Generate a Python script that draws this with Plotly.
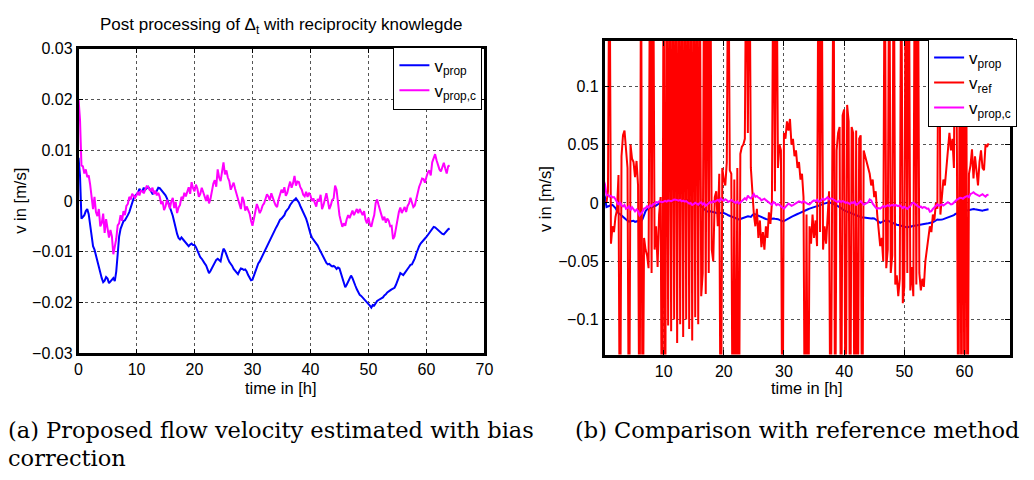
import plotly.graph_objects as go

# ---------------- data ----------------
# sampling instants (hours)
T_PROP = [0, 0.25, 0.5, 0.75, 1, 1.25, 1.5, 1.75, 2, 2.25, 2.5, 2.75, 3, 3.25, 3.5, 3.75,
          4, 4.25, 4.5, 4.75, 5, 5.25, 5.5, 5.75, 6, 6.25, 6.5, 6.75, 7, 7.25, 7.5, 7.75,
          8, 8.25, 8.5, 8.75, 9, 9.25, 9.5, 9.75, 10, 10.25, 10.5, 10.75, 11, 11.25, 11.5, 11.75,
          12, 12.25, 12.5, 12.75, 13, 13.25, 13.5, 13.75, 14, 14.25, 14.5, 14.75, 15, 15.25, 15.5, 15.75,
          16, 16.25, 16.5, 16.75, 17, 17.25, 17.5, 17.75, 18, 18.25, 18.5, 18.75, 19, 19.25, 19.5, 19.75,
          20, 20.25, 20.5, 20.75, 21, 21.25, 21.5, 21.75, 22, 22.25, 22.5, 22.75, 23, 23.25, 23.5, 23.75,
          24, 24.25, 24.5, 24.75, 25, 25.25, 25.5, 25.75, 26, 26.25, 26.5, 26.75, 27, 27.25, 27.5, 27.75,
          28, 28.25, 28.5, 28.75, 29, 29.25, 29.5, 29.75, 30, 30.25, 30.5, 30.75, 31, 31.25, 31.5, 31.75,
          32, 32.25, 32.5, 32.75, 33, 33.25, 33.5, 33.75, 34, 34.25, 34.5, 34.75, 35, 35.25, 35.5, 35.75,
          36, 36.25, 36.5, 36.75, 37, 37.25, 37.5, 37.75, 38, 38.25, 38.5, 38.75, 39, 39.25, 39.5, 39.75,
          40, 40.25, 40.5, 40.75, 41, 41.25, 41.5, 41.75, 42, 42.25, 42.5, 42.75, 43, 43.25, 43.5, 43.75,
          44, 44.25, 44.5, 44.75, 45, 45.25, 45.5, 45.75, 46, 46.25, 46.5, 46.75, 47, 47.25, 47.5, 47.75,
          48, 48.25, 48.5, 48.75, 49, 49.25, 49.5, 49.75, 50, 50.25, 50.5, 50.75, 51, 51.25, 51.5, 51.75,
          52, 52.25, 52.5, 52.75, 53, 53.25, 53.5, 53.75, 54, 54.25, 54.5, 54.75, 55, 55.25, 55.5, 55.75,
          56, 56.25, 56.5, 56.75, 57, 57.25, 57.5, 57.75, 58, 58.25, 58.5, 58.75, 59, 59.25, 59.5, 59.75,
          60, 60.25, 60.5, 60.75, 61, 61.25, 61.5, 61.75, 62, 62.25, 62.5, 62.75, 63, 63.25, 63.5, 63.75,
          64]

# v_prop in 1e-3 m/s
V_PROP_MM = [8.5, 5.0, -3.5, -3.2, -2.8, -2.0, -1.6, -2.6, -4.4, -6.8, -8.9, -9.6, -10.8, -11.6, -13.0, -14.5,
             -15.2, -16.0, -15.7, -15.0, -15.3, -16.2, -15.9, -15.5, -15.2, -15.8, -13.9, -10.5, -7.0, -5.5, -4.6, -4.0,
             -3.8, -3.4, -2.8, -2.2, -1.3, -0.3, 0.5, 1.0, 1.3, 1.6, 2.4, 2.0, 1.9, 2.6, 2.2, 2.5,
             2.8, 2.4, 1.8, 1.4, 1.5, 1.6, 2.0, 2.6, 2.5, 2.2, 1.9, 1.5, 1.1, 0.5, -0.3, -1.0,
             -1.9, -2.9, -4.1, -5.4, -6.5, -7.3, -7.6, -7.2, -7.5, -7.9, -8.1, -8.5, -8.9, -8.6, -8.4, -8.7,
             -8.7, -9.1, -9.8, -10.6, -11.1, -11.4, -12.0, -12.3, -12.7, -13.5, -14.2, -13.8, -13.3, -12.6, -12.2, -11.6,
             -11.4, -11.7, -11.9, -10.5, -9.4, -9.8, -10.4, -11.3, -12.0, -12.3, -12.8, -13.4, -13.8, -14.1, -14.4, -13.8,
             -13.3, -13.4, -13.6, -13.5, -13.9, -14.6, -15.2, -15.6, -15.5, -14.7, -13.8, -12.9, -12.3, -11.9, -11.3, -10.5,
             -10.0, -9.5, -8.9, -8.2, -7.7, -7.2, -6.6, -5.8, -5.4, -4.9, -4.3, -3.7, -3.5, -3.2, -2.8, -2.1,
             -1.8, -1.4, -0.8, -0.3, 0.0, 0.2, 0.5, 0.1, -0.3, -1.0, -1.6, -2.2, -2.8, -3.5, -4.4, -5.6,
             -6.5, -7.2, -7.6, -7.8, -8.2, -8.8, -9.4, -10.0, -10.6, -11.2, -11.7, -12.2, -12.5, -12.4, -12.7, -12.9,
             -12.8, -13.0, -13.4, -13.1, -13.3, -14.2, -15.2, -16.2, -17.0, -16.5, -15.9, -15.1, -14.7, -15.2, -15.8, -16.7,
             -17.4, -18.0, -18.5, -18.7, -19.0, -19.3, -19.5, -19.8, -20.1, -20.6, -21.0, -20.5, -20.6, -20.0, -19.7, -19.5,
             -19.3, -19.2, -19.0, -18.6, -18.4, -18.0, -17.7, -17.6, -17.4, -17.3, -17.1, -16.5, -15.9, -15.0, -14.2, -14.4,
             -14.6, -14.2, -13.9, -13.4, -13.0, -12.6, -12.5, -12.0, -11.3, -10.4, -9.5, -8.9, -8.4, -8.0, -7.7, -7.4,
             -7.1, -6.7, -6.3, -5.8, -5.4, -5.1, -5.2, -5.5, -5.7, -6.0, -6.3, -6.5, -6.6, -6.2, -5.8, -5.6,
             -5.4]

# v_prop,c in 1e-3 m/s
V_PROPC_MM = [20.0, 16.0, 7.0, 6.8, 5.4, 6.2, 4.7, 5.0, 3.2, 0.5, -1.6, 0.8, -2.2, -3.0, -1.6, -5.0,
              -4.4, -2.5, -6.3, -3.6, -5.4, -7.2, -5.7, -7.0, -10.5, -9.0, -7.5, -4.8, -4.4, -2.8, -3.9, -2.0,
              -2.8, -1.0, -0.6, 0.8, 0.3, 1.4, 1.1, 0.6, 1.1, 1.8, 1.1, 2.0, 1.9, 1.5, 2.2, 2.9,
              2.8, 2.2, 2.0, 2.6, 1.4, 2.0, 1.1, 1.6, 0.8, -0.6, -0.1, -1.8, -1.1, 0.2, -0.6, -1.5,
              -0.1, 0.6, -1.4, -0.2, -2.4, -1.3, -0.8, 0.8, 0.3, 1.6, 0.9, 2.0, 2.7, 1.4, 3.7, 2.5,
              1.9, 3.2, 2.4, 0.8, 1.4, 2.6, 1.6, 0.6, 0.0, 1.2, -0.5, 0.4, 1.9, 3.4, 4.1, 2.8,
              6.2, 4.6, 3.9, 5.6, 7.6, 5.2, 6.0, 4.6, 3.9, 2.2, 2.8, 3.6, 2.4, 1.2, 0.3, -0.6,
              -1.6, 0.8, 0.0, -1.9, -1.1, -1.7, -2.5, -3.9, -4.9, -3.5, -2.2, -0.6, -1.4, -2.4, -1.8, -0.9,
              -0.5, 0.4, 1.3, 0.9, 0.1, 1.5, 0.5, -0.2, -0.9, -1.2, 0.3, 1.4, 2.2, 1.6, 2.7, 1.0,
              1.6, 2.8, 3.8, 2.6, 3.5, 4.9, 3.0, 3.8, 3.7, 2.7, 2.2, 1.2, 0.9, 1.8, 0.8, 1.6,
              1.1, 0.0, 0.5, -0.4, -1.1, 0.4, -0.1, 1.2, -1.6, -0.8, 0.3, 1.5, 0.0, -1.6, -0.9, 0.2,
              0.5, 3.0, 2.2, -0.6, -2.8, -4.0, -5.1, -4.4, -4.9, -3.6, -2.8, -3.4, -2.7, -1.9, -2.8, -2.0,
              -1.6, -2.4, -1.6, -2.2, -2.8, -2.0, -3.7, -4.4, -3.3, -4.6, -5.1, -3.8, -2.8, -0.4, 0.3, -0.8,
              -1.6, -2.8, -3.8, -3.1, -4.3, -3.5, -3.9, -5.0, -4.9, -7.5, -7.0, -5.2, -3.8, -2.2, -1.3, -2.4,
              -1.8, -1.2, -2.2, -1.0, -0.5, 0.6, -0.3, -1.2, -0.9, 0.4, 1.9, 2.8, 3.5, 4.4, 4.3, 3.6,
              4.7, 5.6, 6.0, 5.0, 7.6, 8.3, 9.2, 8.0, 7.0, 6.2, 5.8, 6.8, 7.5, 6.4, 5.4, 6.8,
              7.0]

# reference method v_ref (1e-3 m/s), sampled from 0.5 h on; outliers leave the axis
T_REF = T_PROP[2:]
V_REF_MM = [0, 10, 250, -35, -20, -25, -12, -6, 24, -250, 40, 58, 62, 45, 30, -250, 50, 38,
            35, 22, 36, 15, -250, 250, -250, -30, -40, -45, -56, 250, -60, 250, -40, -20, -55, -10, 5, -250,
            250, -250, 250, -105, 250, -110, 250, -100, 250, -120, 250, -104, 250, -115, 250, -100,
            250, -108, 250, -118, 250, -98, 250, -104, 250, -80, -60, 250, -78, 250, -60, 250,
            -40, -50, 5, 10, -20, 25, -250, 30, 20, 15, 35, 250, 28, 25, -250, 20,
            -250, 30, -250, 42, 48, 50, 55, 250, 60, 250, 30, 5, -10, -20, -5, -30,
            -15, -38, -25, -40, -20, -30, -8, -18, 0, 250, 10, 250, 30, 50, 45, -250,
            60, 55, 70, 62, 72, 50, 55, 40, 45, 30, 35, 20, 25, 5, -250, -10,
            -250, -20, -35, -10, -30, -15, -37, 250, -25, 250, -40, -20, -35, -15, 10, -250,
            30, 250, -250, 45, 60, 65, -250, 75, 80, -250, 84, 70, -250, 65, 60, -250,
            62, -250, 55, 58, -250, 45, 40, 35, 30, 25, 15, 20, 5, 10, -10, -25,
            -37, -30, -50, 250, -56, -40, 250, -60, -45, 250, -70, -62, -80, -65, 250, -86,
            -72, 250, -60, 250, -75, -55, -80, 250, -70, 250, -60, -75, -65, -72, -50, -40,
            -30, -20, -25, -10, -15, 0, -5, 250, -10, 5, 20, 15, 30, 40, 60, 45,
            55, 30, 250, 40, -250, 250, -250, 250, -250, 250, -250, 25, 32, 46, 21, 40,
            27, 15, 35, 45, 30, 28, 50, 48, 51]

LEFT_X_TICKS = [0, 10, 20, 30, 40, 50, 60, 70]
LEFT_Y_TICKS = [-0.03, -0.02, -0.01, 0, 0.01, 0.02, 0.03]
LEFT_Y_LABELS = ["\u22120.03", "\u22120.02", "\u22120.01", "0", "0.01", "0.02", "0.03"]
RIGHT_X_TICKS = [10, 20, 30, 40, 50, 60]
RIGHT_Y_TICKS = [-0.1, -0.05, 0, 0.05, 0.1]
RIGHT_Y_LABELS = ["\u22120.1", "\u22120.05", "0", "0.05", "0.1"]

v_prop = [v / 1000 for v in V_PROP_MM]
v_propc = [v / 1000 for v in V_PROPC_MM]
v_ref = [v / 1000 for v in V_REF_MM]

BLUE = "#0000ff"
MAGENTA = "#ff00ff"
RED = "#ff0000"
FONT = "Liberation Sans"

fig = go.Figure()
fig.add_trace(go.Scatter(x=T_PROP, y=v_prop, mode="lines", line=dict(color=BLUE, width=2),
                         name="v<sub>prop</sub>", xaxis="x", yaxis="y", legend="legend"))
fig.add_trace(go.Scatter(x=T_PROP, y=v_propc, mode="lines", line=dict(color=MAGENTA, width=2),
                         name="v<sub>prop,c</sub>", xaxis="x", yaxis="y", legend="legend"))
fig.add_trace(go.Scatter(x=T_PROP, y=v_prop, mode="lines", line=dict(color=BLUE, width=2),
                         name="v<sub>prop</sub>", xaxis="x2", yaxis="y2", legend="legend2"))
fig.add_trace(go.Scatter(x=T_REF, y=v_ref, mode="lines", line=dict(color=RED, width=2),
                         name="v<sub>ref</sub>", xaxis="x2", yaxis="y2", legend="legend2"))
fig.add_trace(go.Scatter(x=T_PROP, y=v_propc, mode="lines", line=dict(color=MAGENTA, width=2),
                         name="v<sub>prop,c</sub>", xaxis="x2", yaxis="y2", legend="legend2"))

axis_common = dict(showline=True, linecolor="black", linewidth=2.5, mirror="ticks",
                   ticks="inside", ticklen=5, tickwidth=1, tickcolor="black",
                   showgrid=True, gridcolor="#555555", griddash="dot", gridwidth=1,
                   zeroline=False, tickfont=dict(family=FONT, size=16, color="black"))

W, H = 1034, 480
L1, R1, T1, B1 = 75.5, 486.5, 42, 358
L2, R2, T2, B2 = 608.3, 1019, 34, 359.3

legend_style = dict(xanchor="right", yanchor="top", bgcolor="white", bordercolor="black", borderwidth=1,
                    font=dict(family=FONT, size=17, color="black"), tracegroupgap=0)

fig.update_layout(
    width=W, height=H, margin=dict(l=0, r=0, t=0, b=0),
    paper_bgcolor="white", plot_bgcolor="white",
    xaxis=dict(domain=[L1 / W, R1 / W], range=[0, 70], tickvals=LEFT_X_TICKS, anchor="y", **axis_common),
    yaxis=dict(domain=[1 - B1 / H, 1 - T1 / H], range=[-0.03, 0.03], tickvals=LEFT_Y_TICKS,
               ticktext=LEFT_Y_LABELS, anchor="x", **axis_common),
    xaxis2=dict(domain=[L2 / W, R2 / W], range=[0.2, 67.6], tickvals=RIGHT_X_TICKS, anchor="y2", **axis_common),
    yaxis2=dict(domain=[1 - B2 / H, 1 - T2 / H], range=[-0.13, 0.139], tickvals=RIGHT_Y_TICKS,
                ticktext=RIGHT_Y_LABELS, anchor="x2", **axis_common),
    showlegend=True,
    legend=dict(x=484.5 / W, y=1 - 40 / H, **legend_style),
    legend2=dict(x=1026 / W, y=1 - 32 / H, **legend_style),
)

ann = []
ann.append(dict(text="Post processing of \u0394<sub>t</sub> with reciprocity knowlegde", x=281 / W, y=1 - 19 / H,
                xref="paper", yref="paper", showarrow=False, xanchor="center", yanchor="middle",
                font=dict(family=FONT, size=17, color="black")))
ann.append(dict(text="time in [h]", x=281 / W, y=1 - 394 / H, xref="paper", yref="paper", showarrow=False,
                xanchor="center", yanchor="middle", font=dict(family=FONT, size=16.5, color="black")))
ann.append(dict(text="time in [h]", x=813 / W, y=1 - 394 / H, xref="paper", yref="paper", showarrow=False,
                xanchor="center", yanchor="middle", font=dict(family=FONT, size=16.5, color="black")))
ann.append(dict(text="v in [m/s]", x=16 / W, y=1 - 200 / H, xref="paper", yref="paper", showarrow=False,
                textangle=-90, xanchor="center", yanchor="middle", font=dict(family=FONT, size=16.5, color="black")))
ann.append(dict(text="v in [m/s]", x=548 / W, y=1 - 198 / H, xref="paper", yref="paper", showarrow=False,
                textangle=-90, xanchor="center", yanchor="middle", font=dict(family=FONT, size=16.5, color="black")))
CAP_FONT = dict(family="DejaVu Serif", size=22.5, color="black")
ann.append(dict(text="(a) Proposed flow velocity estimated with bias", x=2 / W, y=1 - 437 / H, xref="paper",
                yref="paper", showarrow=False, xanchor="left", yanchor="middle", font=CAP_FONT))
ann.append(dict(text="correction", x=2 / W, y=1 - 467 / H, xref="paper", yref="paper", showarrow=False,
                xanchor="left", yanchor="middle", font=CAP_FONT))
ann.append(dict(text="(b) Comparison with reference method", x=576 / W, y=1 - 437 / H, xref="paper",
                yref="paper", showarrow=False, xanchor="left", yanchor="middle", font=CAP_FONT))
fig.update_layout(annotations=ann)

fig.write_html("out.html")
